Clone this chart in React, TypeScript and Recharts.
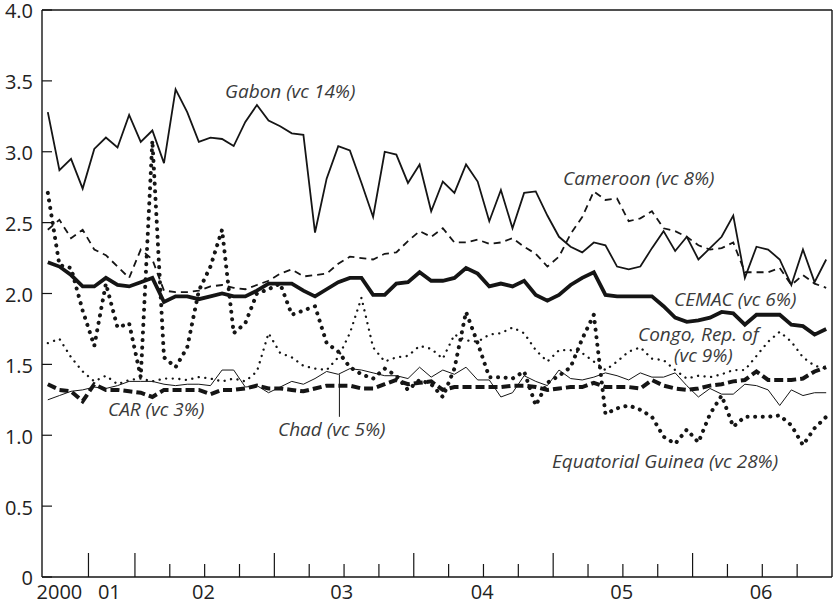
import React from 'react';
import { LineChart, Line, XAxis, YAxis, ReferenceLine } from 'recharts';

// 2000-01 quarterly (8 points), then monthly 2002-06 (60 points)
const gabon = [3.28, 2.87, 2.95, 2.74, 3.02, 3.10, 3.03, 3.26, 3.07, 3.15, 2.92, 3.44, 3.28, 3.07, 3.10, 3.09, 3.04, 3.21, 3.33, 3.22,
  3.18, 3.13, 3.12, 2.43, 2.81, 3.04, 3.01, 2.78, 2.54, 3.00, 2.98, 2.78, 2.91, 2.58, 2.79, 2.71, 2.91, 2.79, 2.51, 2.73,
  2.46, 2.71, 2.72, 2.55, 2.40, 2.33, 2.29, 2.36, 2.34, 2.19, 2.17, 2.19, 2.32, 2.44, 2.30, 2.40, 2.24, 2.32, 2.40, 2.55,
  2.11, 2.33, 2.31, 2.24, 2.06, 2.31, 2.08, 2.24];
const cameroon = [2.45, 2.52, 2.39, 2.45, 2.31, 2.27, 2.19, 2.11, 2.31, 2.24, 2.02, 2.01, 2.01, 2.02, 2.05, 2.06, 2.04, 2.03, 2.06, 2.09,
  2.14, 2.17, 2.12, 2.13, 2.14, 2.21, 2.26, 2.25, 2.24, 2.28, 2.29, 2.37, 2.44, 2.40, 2.46, 2.36, 2.36, 2.38, 2.35, 2.36,
  2.39, 2.33, 2.28, 2.19, 2.26, 2.42, 2.54, 2.72, 2.66, 2.67, 2.51, 2.53, 2.58, 2.46, 2.44, 2.40, 2.34, 2.31, 2.32, 2.36,
  2.15, 2.15, 2.15, 2.18, 2.06, 2.13, 2.07, 2.04];
const cemac = [2.22, 2.19, 2.13, 2.05, 2.05, 2.11, 2.06, 2.05, 2.08, 2.11, 1.94, 1.98, 1.98, 1.96, 1.98, 2.00, 1.98, 1.98, 2.02, 2.07,
  2.07, 2.07, 2.02, 1.98, 2.03, 2.08, 2.11, 2.11, 1.99, 1.99, 2.07, 2.08, 2.15, 2.09, 2.09, 2.11, 2.18, 2.14, 2.05, 2.07,
  2.05, 2.09, 1.99, 1.95, 1.99, 2.06, 2.11, 2.15, 1.99, 1.98, 1.98, 1.98, 1.98, 1.91, 1.83, 1.80, 1.81, 1.83, 1.87, 1.86,
  1.78, 1.85, 1.85, 1.85, 1.78, 1.77, 1.71, 1.75];
const congo = [1.65, 1.68, 1.55, 1.45, 1.38, 1.42, 1.36, 1.39, 1.40, 1.38, 1.40, 1.40, 1.39, 1.41, 1.40, 1.38, 1.40, 1.38, 1.45, 1.72,
  1.58, 1.55, 1.49, 1.47, 1.46, 1.55, 1.72, 1.97, 1.62, 1.52, 1.55, 1.56, 1.63, 1.61, 1.54, 1.71, 1.67, 1.66, 1.71, 1.72,
  1.76, 1.72, 1.60, 1.52, 1.60, 1.60, 1.58, 1.52, 1.46, 1.52, 1.59, 1.62, 1.54, 1.53, 1.46, 1.40, 1.42, 1.41, 1.43, 1.46,
  1.46, 1.56, 1.66, 1.73, 1.66, 1.55, 1.49, 1.47];
const eqGuinea = [2.71, 2.20, 2.18, 1.88, 1.63, 2.07, 1.76, 1.79, 1.41, 3.08, 1.55, 1.48, 1.62, 2.02, 2.19, 2.45, 1.72, 1.79, 2.00, 2.03,
  2.07, 1.85, 1.88, 1.91, 1.65, 1.59, 1.48, 1.43, 1.40, 1.47, 1.42, 1.32, 1.39, 1.36, 1.27, 1.47, 1.87, 1.65, 1.41, 1.41,
  1.40, 1.45, 1.21, 1.37, 1.42, 1.48, 1.68, 1.85, 1.15, 1.19, 1.21, 1.18, 1.13, 0.99, 0.94, 1.04, 0.95, 1.15, 1.28, 1.06,
  1.13, 1.13, 1.13, 1.14, 1.07, 0.93, 1.05, 1.13];
const car = [1.36, 1.32, 1.31, 1.24, 1.36, 1.32, 1.32, 1.31, 1.30, 1.27, 1.32, 1.32, 1.32, 1.32, 1.29, 1.32, 1.32, 1.33, 1.35, 1.33,
  1.33, 1.32, 1.31, 1.33, 1.35, 1.35, 1.35, 1.33, 1.33, 1.36, 1.39, 1.36, 1.37, 1.38, 1.32, 1.34, 1.34, 1.34, 1.34, 1.34,
  1.35, 1.35, 1.34, 1.32, 1.33, 1.34, 1.34, 1.37, 1.34, 1.34, 1.34, 1.33, 1.39, 1.35, 1.33, 1.32, 1.33, 1.35, 1.36, 1.38,
  1.39, 1.45, 1.39, 1.39, 1.39, 1.40, 1.45, 1.48];
const chad = [1.25, 1.28, 1.31, 1.32, 1.34, 1.33, 1.35, 1.38, 1.38, 1.38, 1.36, 1.35, 1.36, 1.36, 1.35, 1.46, 1.46, 1.34, 1.35, 1.30,
  1.34, 1.38, 1.36, 1.40, 1.45, 1.43, 1.47, 1.46, 1.44, 1.42, 1.42, 1.40, 1.48, 1.41, 1.46, 1.43, 1.48, 1.39, 1.39, 1.27,
  1.30, 1.42, 1.38, 1.35, 1.46, 1.40, 1.39, 1.41, 1.44, 1.42, 1.39, 1.44, 1.41, 1.41, 1.44, 1.35, 1.27, 1.33, 1.29, 1.29,
  1.36, 1.35, 1.32, 1.21, 1.32, 1.28, 1.30, 1.30];

const yTicks = [0, 0.5, 1, 1.5, 2, 2.5, 3, 3.5, 4];
const yearBounds = [3.5, 7.5, 19.5, 31.5, 43.5, 55.5];
const quarterBounds = [10.5, 13.5, 16.5, 22.5, 25.5, 28.5, 34.5, 37.5, 40.5, 46.5, 49.5, 52.5, 58.5, 61.5, 64.5];
const yearLabels = ['2000', '01', '02', '03', '04', '05', '06'];
const yearLabelAt = [1, 5.3, 13.4, 25.3, 37.4, 49.4, 61.4];

const data = gabon.map((v, i) => ({
  i, gabon: v, cameroon: cameroon[i], cemac: cemac[i], congo: congo[i],
  eqGuinea: eqGuinea[i], car: car[i], chad: chad[i],
}));

const FONT = "'Open Sans', sans-serif";
const INK = '#151515';

const XTick = ({ x, y, payload }: any) => {
  const v = payload.value;
  if (yearBounds.includes(v)) return <line x1={x} x2={x} y1={y} y2={y - 24} stroke={INK} strokeWidth={1.2} />;
  if (quarterBounds.includes(v)) return <line x1={x} x2={x} y1={y} y2={y - 13} stroke={INK} strokeWidth={1.2} />;
  const idx = yearLabelAt.indexOf(v);
  return (
    <text x={x} y={y + 22} textAnchor="middle" fontFamily={FONT} fontSize={20} fill="#222">
      {yearLabels[idx]}
    </text>
  );
};

const YTickLeft = ({ x, y, payload }: any) => (
  <g>
    <line x1={x} x2={x + 10} y1={y} y2={y} stroke={INK} strokeWidth={1.2} />
    <text x={x - 9} y={y} dy="0.42em" textAnchor="end" fontFamily={FONT} fontSize={20} fill="#222">
      {payload.value === 0 ? '0' : payload.value.toFixed(1)}
    </text>
  </g>
);

const YTickRight = ({ x, y }: any) => (
  <line x1={x} x2={x - 9} y1={y} y2={y} stroke={INK} strokeWidth={1.2} />
);

const labels = [
  { text: 'Gabon (vc 14%)', x: 225, y: 98 },
  { text: 'Cameroon (vc 8%)', x: 563, y: 185 },
  { text: 'CEMAC (vc 6%)', x: 674, y: 306 },
  { text: 'Congo, Rep. of', x: 638, y: 341 },
  { text: '(vc 9%)', x: 674, y: 362 },
  { text: 'CAR (vc 3%)', x: 108, y: 416 },
  { text: 'Chad (vc 5%)', x: 278, y: 436 },
  { text: 'Equatorial Guinea (vc 28%)', x: 552, y: 468 },
];

export default function App() {
  return (
    <div style={{ position: 'absolute', left: 0, top: 0, width: 834, height: 607, background: '#fff' }}>
      <LineChart width={834} height={607} data={data} margin={{ top: 10, right: 0, left: 0, bottom: 0 }}>
        <XAxis type="number" dataKey="i" domain={[-0.5, 67.5]}
          ticks={[...yearBounds, ...quarterBounds, ...yearLabelAt]} interval={0}
          tickLine={false} tickSize={0} tickMargin={0} height={30}
          axisLine={{ stroke: INK, strokeWidth: 1.4 }} tick={<XTick />} />
        <YAxis domain={[0, 4]} ticks={yTicks} interval={0} width={42}
          tickLine={false} tickSize={0} tickMargin={0}
          axisLine={{ stroke: INK, strokeWidth: 1.4 }} tick={<YTickLeft />} />
        <YAxis yAxisId="r" orientation="right" domain={[0, 4]} ticks={yTicks} interval={0} width={2}
          tickLine={false} tickSize={0} tickMargin={0}
          axisLine={{ stroke: INK, strokeWidth: 1.4 }} tick={<YTickRight />} />
        <ReferenceLine y={4} stroke={INK} strokeWidth={1.4} />
        <ReferenceLine segment={[{ x: 25.1, y: chad[25] }, { x: 25.1, y: 1.13 }]} stroke={INK} strokeWidth={1} />

        <Line type="linear" dataKey="chad" stroke={INK} strokeWidth={1} dot={false} isAnimationActive={false} />
        <Line type="linear" dataKey="congo" stroke={INK} strokeWidth={2.3} strokeDasharray="0.1 6.5"
          strokeLinecap="round" dot={false} isAnimationActive={false} />
        <Line type="linear" dataKey="car" stroke={INK} strokeWidth={4} strokeDasharray="9 4"
          dot={false} isAnimationActive={false} />
        <Line type="linear" dataKey="eqGuinea" stroke={INK} strokeWidth={4} strokeDasharray="0.1 7.5"
          strokeLinecap="round" dot={false} isAnimationActive={false} />
        <Line type="linear" dataKey="cameroon" stroke={INK} strokeWidth={1.8} strokeDasharray="7 5"
          dot={false} isAnimationActive={false} />
        <Line type="linear" dataKey="cemac" stroke={INK} strokeWidth={3.8} dot={false} isAnimationActive={false} />
        <Line type="linear" dataKey="gabon" stroke={INK} strokeWidth={1.8} dot={false} isAnimationActive={false} />
      </LineChart>
      <svg width={834} height={607} style={{ position: 'absolute', left: 0, top: 0, pointerEvents: 'none' }}>
        {labels.map(l => (
          <text key={l.text} x={l.x} y={l.y} fontFamily={FONT} fontStyle="italic" fontSize={19} fill="#3a3a3a">
            {l.text}
          </text>
        ))}
      </svg>
    </div>
  );
}
